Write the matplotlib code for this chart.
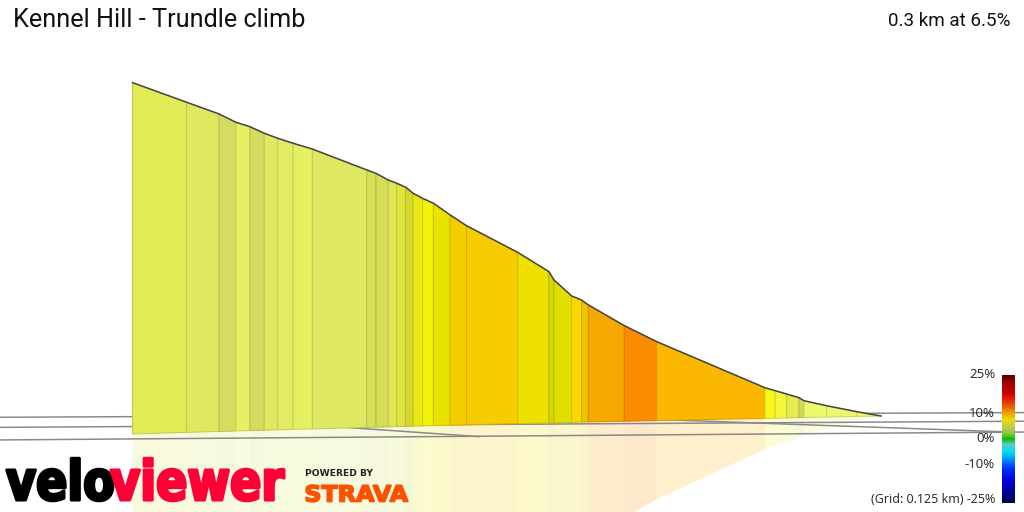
import numpy as np
import matplotlib
matplotlib.use('Agg')
from matplotlib import pyplot as plt
from matplotlib.colors import LinearSegmentedColormap, to_rgb
from matplotlib.patches import Polygon, PathPatch
from matplotlib.textpath import TextPath
from matplotlib.font_manager import FontProperties
from matplotlib.transforms import Affine2D, blended_transform_factory

title = 'Kennel Hill - Trundle climb'
summary = '0.3 km at 6.5%'
grid_note = '(Grid: 0.125 km)'

# projected distance from the start (m); the summit is drawn on the left
dist_m = [300.0, 278.3, 265.3, 258.6, 252.9, 247.2, 241.8, 235.6, 227.9,
          206.1, 202.4, 197.5, 194.1, 190.5, 187.5, 183.7, 179.4, 172.7,
          166.1, 145.6, 133.1, 131.1, 124.0, 120.0, 117.3, 102.9, 89.9,
          46.5, 42.5, 37.8, 32.9, 30.9, 21.8, 9.7, 0.0]
# projected elevation of the road (m, exaggerated)
elev_m = [18.52, 17.43, 16.78, 16.32, 16.07, 15.71, 15.43, 15.15, 14.83,
          13.67, 13.48, 13.11, 12.93, 12.71, 12.37, 12.09, 11.82, 11.17,
          10.57, 9.09, 8.02, 7.56, 6.67, 6.44, 6.17, 5.02, 4.13,
          1.57, 1.41, 1.22, 1.02, 0.85, 0.57, 0.24, 0.0]
# projected ground level below each point (perspective tilt)
ground_m = [-1.00, -0.91, -0.86, -0.83, -0.81, -0.79, -0.77, -0.74, -0.72,
            -0.63, -0.62, -0.60, -0.59, -0.57, -0.56, -0.55, -0.53, -0.51,
            -0.49, -0.42, -0.38, -0.38, -0.36, -0.34, -0.33, -0.29, -0.25,
            -0.13, -0.12, -0.11, -0.09, -0.08, -0.06, -0.02, 0.0]
# gradient colour of each section (summit first)
seg_colors = ['#e2ea55', '#e0e860', '#d5dc60', '#e5f065', '#d6dc60', '#dfe860',
              '#e3ec62', '#e5f062', '#e0e862', '#d8e058', '#d6dc55', '#dfe852',
              '#dee43c', '#d6d830', '#e8e814', '#f2f20a', '#ece200', '#f4ce00',
              '#f6cc00', '#eee000', '#d6d600', '#e0de00', '#fcd600', '#ecc400',
              '#f6a800', '#fc8c00', '#fcb800', '#f8f81e', '#f4f63c', '#e4ea50',
              '#d4d85a', '#ecf86e', '#ecf870', '#ecf870']

# ground plane grid lines: (dist start, dist end), (elev start, elev end)
grid_lines = [((353.1, -57.3), (-0.07, 0.19)),
              ((353.1, -57.3), (-0.63, -0.29)),
              ((353.1, -57.3), (-1.33, -0.89)),
              ((216.8, 160.7), (-0.61, -1.15)),
              ((112.6, -51.7), (-0.08, -0.89))]

grad_ticks = [25, 10, 0, -10, -25]
grad_stops = [-25, -20, -17, -12, -8, -5, -2, 0, 2, 4.8, 7.4, 10, 12, 14, 17.8, 22, 25]
grad_cols = ['#000050', '#0000a0', '#0000d8', '#0028ff', '#0090ff', '#00e0f0',
             '#60c8c8', '#00c000', '#80c840', '#c8c850', '#e8e000', '#f0a800',
             '#f07000', '#e84000', '#d00000', '#a00000', '#5a0000']


def darker(c, f=0.86):
    r, g, b = to_rgb(c)
    return (r * f, g * f, b * f)


def fit_path(text, prop, x0, x1, y0, height, ref='self'):
    """ TextPath squeezed into a box: x0..x1 wide, glyph height from baseline y0 """
    p = TextPath((0, 0), text, size=100, prop=prop)
    ext = p.get_extents()
    if ref == 'self':
        h = ext.y1
    else:
        h = TextPath((0, 0), ref, size=100, prop=prop).get_extents().height
    tf = Affine2D().translate(-ext.x0, 0).scale((x1 - x0) / ext.width, height / h)
    return p.transformed(tf.translate(x0, y0))


fig = plt.figure(figsize=(10.24, 5.12), dpi=100)
ax = fig.add_axes([0, 0, 1, 1])
ax.set_xlim(353.1, -57.3)
ax.set_ylim(-5.333, 23.111)
ax.set_axis_off()

d = np.array(dist_m)
e = np.array(elev_m)
g = np.array(ground_m)
refl = 2 * g - e

for i, col in enumerate(seg_colors):
    # mirrored reflection under the ground
    ax.add_patch(Polygon([(d[i], g[i]), (d[i], refl[i]), (d[i + 1], refl[i + 1]),
                          (d[i + 1], g[i + 1])], closed=True, fc=col, ec='none',
                         alpha=0.2, zorder=1))
    ax.add_patch(Polygon([(d[i], g[i]), (d[i], e[i]), (d[i + 1], e[i + 1]),
                          (d[i + 1], g[i + 1])], closed=True, fc=col,
                         ec=darker(col), lw=0.7, zorder=3))

for xs, ys in grid_lines:
    ax.plot(xs, ys, color='#8a8a8a', lw=1.1, zorder=2, solid_capstyle='butt')

ax.plot(d, e, color='#454545', lw=1.1, zorder=4)

# gradient scale
cmap = LinearSegmentedColormap.from_list(
    'grade', [((s + 25) / 50, c) for s, c in zip(grad_stops, grad_cols)])
cax = fig.add_axes([1002 / 1024, 9.3 / 512, 13 / 1024, 127.7 / 512])
cax.imshow(np.linspace(25, -25, 256)[:, None], aspect='auto', cmap=cmap,
           vmin=-25, vmax=25, extent=[0, 1, -25, 25])
cax.set_axis_off()
tr = blended_transform_factory(fig.transFigure, cax.transData)
for t in grad_ticks:
    label = '{}%'.format(t)
    if t == grad_ticks[-1]:
        cax.text(995 / 1024, t, grid_note + ' ' + label, transform=tr,
                 ha='right', va='baseline', fontsize=9, family='Open Sans',
                 color='#222222')
    else:
        cax.text(995 / 1024, t, label, transform=tr, ha='right', va='center',
                 fontsize=9.5, family='Open Sans', color='#222222')

fig.text(13 / 1024, 1 - 27 / 512, title, fontsize=18.2, family='Roboto',
         va='baseline', color='#111111')
fig.text(1010.5 / 1024, 1 - 26 / 512, summary, fontsize=13.6, family='Roboto',
         ha='right', va='baseline', color='#111111')

# logos in pixel space
lax = fig.add_axes([0, 0, 1, 1], zorder=10)
lax.set_xlim(0, 1024)
lax.set_ylim(0, 512)
lax.set_axis_off()
lax.patch.set_alpha(0)

fp = FontProperties(family='DejaVu Sans', weight='bold')
p_velo = TextPath((0, 0), 'velo', size=100, prop=fp)
p_view = TextPath((0, 0), 'viewer', size=100, prop=fp)
xh = TextPath((0, 0), 'x', size=100, prop=fp).get_extents().height
w_velo = p_velo.get_extents().x1 - 6
w_all = w_velo + p_view.get_extents().x1
sx = 278 / w_all
sy = 30 / xh
base = 512 - 500
lax.add_patch(PathPatch(p_velo.transformed(Affine2D().scale(sx, sy).translate(6, base)),
                        fc='black', ec='black', lw=2.2, joinstyle='round'))
lax.add_patch(PathPatch(p_view.transformed(Affine2D().scale(sx, sy).translate(6 + w_velo * sx, base)),
                        fc='#ff0036', ec='#ff0036', lw=2.2, joinstyle='round'))

fs = FontProperties(family='DejaVu Sans', weight='bold')
lax.add_patch(PathPatch(fit_path('STRAVA', fs, 306, 408, 512 - 501.5, 16.5),
                        fc='#fc5200', ec='#fc5200', lw=1.2))
lax.text(305, 512 - 476.5, 'POWERED BY', fontsize=6.6, family='DejaVu Sans',
         weight='bold', color='#222222', va='baseline')

fig.savefig('out.png', dpi=100)
